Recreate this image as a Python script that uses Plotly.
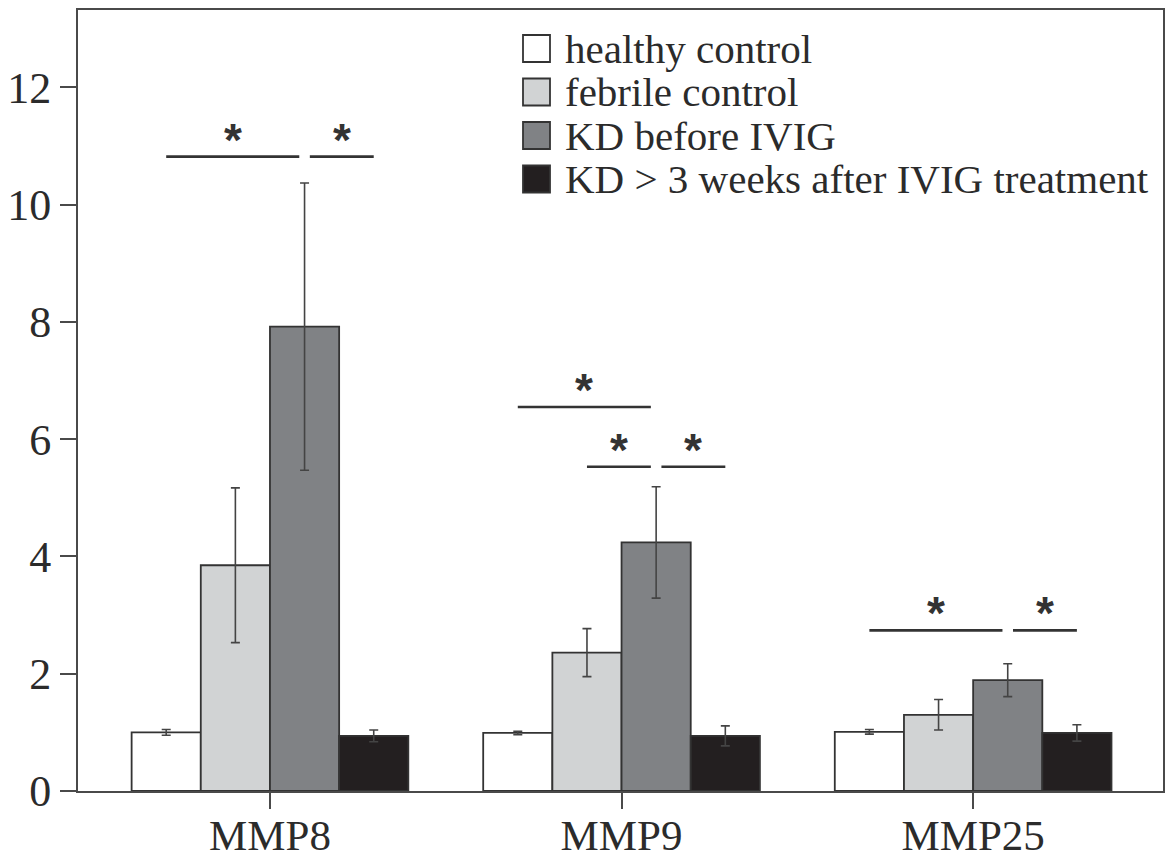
import plotly.graph_objects as go

# ---------------- data ----------------
categories = ["MMP8", "MMP9", "MMP25"]
series_names = ["healthy control", "febrile control", "KD before IVIG",
                "KD > 3 weeks after IVIG treatment"]
healthy = [1.00, 0.99, 1.01]
healthy_err = [0.05, 0.03, 0.04]
febrile = [3.85, 2.36, 1.30]
febrile_err = [1.32, 0.41, 0.26]
kd_before = [7.92, 4.24, 1.89]
kd_before_err = [2.45, 0.95, 0.28]
kd_after = [0.94, 0.94, 0.99]
kd_after_err = [0.10, 0.17, 0.14]
y_ticks = [0, 2, 4, 6, 8, 10, 12]
# significance brackets: (category index, from bar, to bar, bracket level)
sig_brackets = [(0, 0, 2, 10.82), (0, 2, 3, 10.82),
                (1, 0, 2, 6.55), (1, 1, 2, 5.53), (1, 2, 3, 5.53),
                (2, 0, 2, 2.74), (2, 2, 3, 2.74)]

values = [healthy, febrile, kd_before, kd_after]
errors = [healthy_err, febrile_err, kd_before_err, kd_after_err]
colors = ["#ffffff", "#d1d3d4", "#808285", "#231f20"]

# ---------------- layout constants ----------------
W, H = 1165, 857
ML, MR, MT, MB = 78, 2, 10, 66
BARGAP = 0.213
XRANGE = [-0.546, 2.54]
YRANGE = [0, 13.32]
LINE_C = "#4a4a4a"
TEXT_C = "#2b2b2b"
SERIF = "Liberation Serif, Times New Roman, serif"

fig = go.Figure()
for name, vals, errs, col in zip(series_names, values, errors, colors):
    fig.add_trace(go.Bar(
        x=categories, y=vals, name=name, showlegend=False,
        marker=dict(color=col, line=dict(color="#333333", width=1.8)),
        error_y=dict(type="data", array=errs, visible=True,
                     color="#444444", thickness=1.6, width=4.5),
    ))

# bar centre offsets within a group
n = len(series_names)
bw = (1 - BARGAP) / n
def bar_center(cat, i):
    return cat - (1 - BARGAP) / 2 + bw * (i + 0.5)

GAP = 0.015
shapes = []
annotations = []
for cat, b0, b1, lvl in sig_brackets:
    x0 = bar_center(cat, b0) + (GAP if b0 == 2 else 0)
    x1 = bar_center(cat, b1) - (GAP if b1 == 2 else 0)
    shapes.append(dict(type="line", xref="x", yref="y", x0=x0, x1=x1,
                       y0=lvl, y1=lvl, line=dict(color="#333333", width=2.6)))
    annotations.append(dict(x=(x0 + x1) / 2, y=lvl, xref="x", yref="y",
                            text="<b>*</b>", showarrow=False, yanchor="middle",
                            xanchor="center", yshift=17,
                            font=dict(family="Liberation Sans, Arial", size=46,
                                      color="#333333")))

# manual legend (large squares)
pw = W - ML - MR
ph = H - MT - MB
def px_x(px):
    return (px - ML) / pw
def px_y(py):
    return (H - MB - py) / ph

leg_x0, leg_sq = 523, 27
leg_rows = [48.5, 92, 135.5, 179]
for name, col, cy in zip(series_names, colors, leg_rows):
    shapes.append(dict(type="rect", xref="paper", yref="paper",
                       x0=px_x(leg_x0), x1=px_x(leg_x0 + leg_sq),
                       y0=px_y(cy + leg_sq / 2), y1=px_y(cy - leg_sq / 2),
                       fillcolor=col, line=dict(color="#333333", width=1.8)))
    annotations.append(dict(x=px_x(leg_x0 + leg_sq + 13), y=px_y(cy),
                            xref="paper", yref="paper", text=name,
                            showarrow=False, xanchor="left", yanchor="middle",
                            font=dict(family=SERIF, size=41, color=TEXT_C)))

axis_common = dict(showline=True, linecolor=LINE_C, linewidth=2, mirror=True,
                   ticks="outside", ticklen=16, tickwidth=2, tickcolor=LINE_C,
                   showgrid=False, zeroline=False, automargin=False,
                   tickfont=dict(family=SERIF, size=44, color=TEXT_C))

x_axis = dict(axis_common)
x_axis["tickfont"] = dict(family=SERIF, size=43, color=TEXT_C)

fig.update_layout(
    template="none",
    width=W, height=H,
    margin=dict(l=ML, r=MR, t=MT, b=MB, pad=0),
    paper_bgcolor="white", plot_bgcolor="white",
    barmode="group", bargap=BARGAP, bargroupgap=0,
    xaxis=dict(type="category", range=XRANGE, ticklabelstandoff=-11, **x_axis),
    yaxis=dict(range=YRANGE, tickvals=y_ticks, **axis_common),
    shapes=shapes, annotations=annotations,
)

fig.write_html("out.html",
               config={"displayModeBar": False},
               post_script="document.body.style.margin='0';document.body.style.padding='0';")
